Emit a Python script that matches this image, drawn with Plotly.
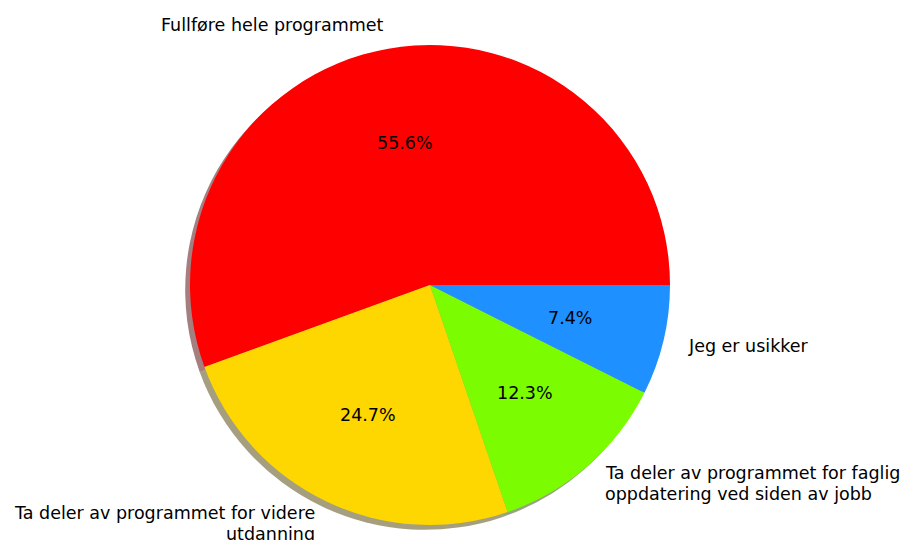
import math
import plotly.graph_objects as go

labels = ["Fullføre hele programmet",
          "Ta deler av programmet for videre\nutdanning",
          "Ta deler av programmet for faglig\noppdatering ved siden av jobb",
          "Jeg er usikker"]
values = [45, 20, 10, 6]
colors = ["#ff0000", "#ffd700", "#7cfc00", "#1e90ff"]

W, H = 907, 540
CX, CY, R = 430.0, 285.0, 240.0
SHX, SHY = -4.8, 4.8
FONT = "DejaVu Sans"
FS = 17.5
LINE = 1.2 * FS


def hex_to_rgb(h):
    h = h.lstrip("#")
    return tuple(int(h[i:i + 2], 16) for i in (0, 2, 4))


shadow_colors = []
for c in colors:
    r, g, b = hex_to_rgb(c)
    shadow_colors.append("rgba(%d,%d,%d,0.5)" % (r * 0.3, g * 0.3, b * 0.3))


def domain(cx, cy):
    return dict(x=[(cx - R) / W, (cx + R) / W],
                y=[(H - cy - R) / H, (H - cy + R) / H])


total = sum(values)
# plotly (counterclockwise) puts the END of the first slice at `rotation`;
# we want the first slice to start at 3 o'clock and go counterclockwise.
rotation = 90 + 360 * (1 - values[0] / total)
rotation = rotation - 360 if rotation > 360 else rotation

fig = go.Figure()
fig.add_trace(go.Pie(values=values, labels=labels, sort=False,
                     direction="counterclockwise", rotation=rotation,
                     marker=dict(colors=shadow_colors, line=dict(width=0)),
                     textinfo="none", hoverinfo="skip", showlegend=False,
                     domain=domain(CX + SHX, CY + SHY)))
fig.add_trace(go.Pie(values=values, labels=labels, sort=False,
                     direction="counterclockwise", rotation=rotation,
                     marker=dict(colors=colors, line=dict(width=0)),
                     textinfo="none", showlegend=False,
                     domain=domain(CX, CY)))

start = 0.0
annotations = []
for lab, v in zip(labels, values):
    frac = v / total
    mid = math.radians((start + frac / 2) * 360)
    start += frac
    c, s = math.cos(mid), math.sin(mid)
    # outer label at 1.1 r
    lx, ly = CX + 1.1 * R * c, CY - 1.1 * R * s
    anchor = "left" if c > 0 else "right"
    lines = lab.split("\n")
    n = len(lines)
    for i, ln in enumerate(lines):
        yy = ly + (i - (n - 1) / 2) * LINE
        annotations.append(dict(x=lx / W, y=1 - yy / H, xref="paper", yref="paper",
                                text=ln, showarrow=False, borderpad=0,
                                xanchor=anchor, yanchor="middle", align=anchor,
                                font=dict(family=FONT, size=FS, color="black")))
    # percentage at 0.6 r
    px, py = CX + 0.6 * R * c, CY - 0.6 * R * s
    annotations.append(dict(x=px / W, y=1 - py / H, xref="paper", yref="paper",
                            text="%.1f%%" % (frac * 100), showarrow=False, borderpad=0,
                            xanchor="center", yanchor="middle",
                            font=dict(family=FONT, size=FS, color="black")))

fig.update_layout(width=W, height=H, margin=dict(l=0, r=0, t=0, b=0),
                  paper_bgcolor="white", plot_bgcolor="white",
                  annotations=annotations, font=dict(family=FONT))
fig.write_html("out.html", config={"displayModeBar": False},
               post_script="document.body.style.margin='0';document.body.style.padding='0';")
